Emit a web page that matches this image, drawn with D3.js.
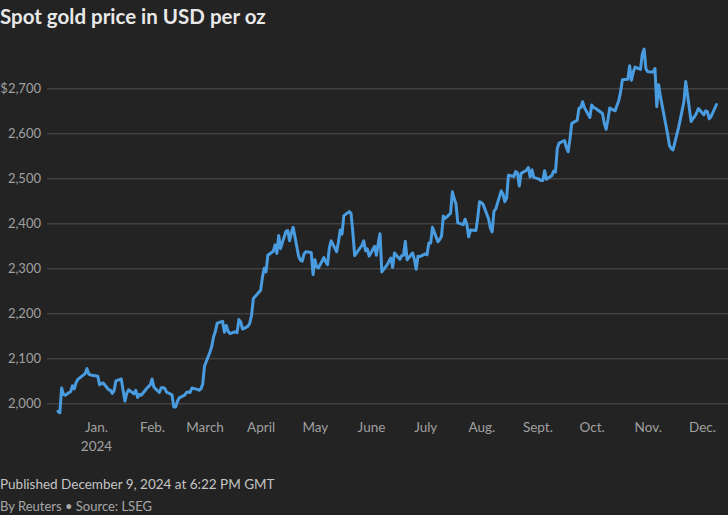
<!DOCTYPE html>
<html>
<head>
<meta charset="utf-8">
<script src="https://cdn.jsdelivr.net/npm/d3@7"></script>
<style>
  html, body { margin: 0; padding: 0; background: #232323; }
  svg { display: block; }
  text { font-family: Lato, "Open Sans", sans-serif; }
</style>
</head>
<body>
<svg id="chart" width="728" height="515"></svg>
<script>
// ---- Data ----
const title = "Spot gold price in USD per oz";
const footerPublished = "Published December 9, 2024 at 6:22 PM GMT";
const footerSource = "By Reuters \u2022 Source: LSEG";

const dates = [
"2023-12-11","2023-12-12","2023-12-13","2023-12-14","2023-12-15","2023-12-18","2023-12-19","2023-12-20","2023-12-21","2023-12-22",
"2023-12-26","2023-12-27","2023-12-28","2023-12-29",
"2024-01-02","2024-01-03","2024-01-04","2024-01-05","2024-01-08","2024-01-09","2024-01-10","2024-01-11","2024-01-12","2024-01-15",
"2024-01-16","2024-01-17","2024-01-18","2024-01-19","2024-01-22","2024-01-23","2024-01-24","2024-01-25","2024-01-26","2024-01-29",
"2024-01-30","2024-01-31",
"2024-02-01","2024-02-02","2024-02-05","2024-02-06","2024-02-07","2024-02-08","2024-02-09","2024-02-12","2024-02-13","2024-02-14",
"2024-02-15","2024-02-16","2024-02-19","2024-02-20","2024-02-21","2024-02-22","2024-02-23","2024-02-26","2024-02-27","2024-02-28","2024-02-29",
"2024-03-01","2024-03-04","2024-03-05","2024-03-06","2024-03-07","2024-03-08","2024-03-11","2024-03-12","2024-03-13","2024-03-14",
"2024-03-15","2024-03-18","2024-03-19","2024-03-20","2024-03-21","2024-03-22","2024-03-25","2024-03-26","2024-03-27","2024-03-28",
"2024-04-01","2024-04-02","2024-04-03","2024-04-04","2024-04-05","2024-04-08","2024-04-09","2024-04-10","2024-04-11","2024-04-12",
"2024-04-15","2024-04-16","2024-04-17","2024-04-18","2024-04-19","2024-04-22","2024-04-23","2024-04-24","2024-04-25","2024-04-26",
"2024-04-29","2024-04-30",
"2024-05-01","2024-05-02","2024-05-03","2024-05-06","2024-05-07","2024-05-08","2024-05-09","2024-05-10","2024-05-13","2024-05-14",
"2024-05-15","2024-05-16","2024-05-17","2024-05-20","2024-05-21","2024-05-22","2024-05-23","2024-05-24","2024-05-27","2024-05-28",
"2024-05-29","2024-05-30","2024-05-31",
"2024-06-03","2024-06-04","2024-06-05","2024-06-06","2024-06-07","2024-06-10","2024-06-11","2024-06-12","2024-06-13","2024-06-14",
"2024-06-17","2024-06-18","2024-06-19","2024-06-20","2024-06-21","2024-06-24","2024-06-25","2024-06-26","2024-06-27","2024-06-28",
"2024-07-01","2024-07-02","2024-07-03","2024-07-04","2024-07-05","2024-07-08","2024-07-09","2024-07-10","2024-07-11","2024-07-12",
"2024-07-15","2024-07-16","2024-07-17","2024-07-18","2024-07-19","2024-07-22","2024-07-23","2024-07-24","2024-07-25","2024-07-26",
"2024-07-29","2024-07-30","2024-07-31",
"2024-08-01","2024-08-02","2024-08-05","2024-08-06","2024-08-07","2024-08-08","2024-08-09","2024-08-12","2024-08-13","2024-08-14",
"2024-08-15","2024-08-16","2024-08-19","2024-08-20","2024-08-21","2024-08-22","2024-08-23","2024-08-26","2024-08-27","2024-08-28",
"2024-08-29","2024-08-30",
"2024-09-02","2024-09-03","2024-09-04","2024-09-05","2024-09-06","2024-09-09","2024-09-10","2024-09-11","2024-09-12","2024-09-13",
"2024-09-16","2024-09-17","2024-09-18","2024-09-19","2024-09-20","2024-09-23","2024-09-24","2024-09-25","2024-09-26","2024-09-27",
"2024-09-30",
"2024-10-01","2024-10-02","2024-10-03","2024-10-04","2024-10-07","2024-10-08","2024-10-09","2024-10-10","2024-10-11","2024-10-14",
"2024-10-15","2024-10-16","2024-10-17","2024-10-18","2024-10-21","2024-10-22","2024-10-23","2024-10-24","2024-10-25","2024-10-28",
"2024-10-29","2024-10-30","2024-10-31",
"2024-11-01","2024-11-04","2024-11-05","2024-11-06","2024-11-07","2024-11-08","2024-11-11","2024-11-12","2024-11-13","2024-11-14",
"2024-11-15","2024-11-18","2024-11-19","2024-11-20","2024-11-21","2024-11-22","2024-11-25","2024-11-26","2024-11-27","2024-11-28",
"2024-11-29",
"2024-12-02","2024-12-03","2024-12-04","2024-12-05","2024-12-06","2024-12-09"
];

const prices = [
1982,1979,2034,2020,2018,2026,2039,2032,2046,2053,
2066,2077,2065,2063,
2060,2041,2044,2045,2030,2029,2022,2028,2050,2054,
2028,2005,2022,2030,2021,2029,2013,2020,2018,2033,
2037,2041,
2054,2036,2024,2034,2035,2033,2025,2019,1992,1992,
2004,2012,2018,2024,2025,2024,2034,2031,2029,2032,2043,
2083,2114,2126,2148,2160,2178,2182,2158,2173,2160,
2155,2159,2157,2186,2181,2165,2171,2178,2196,2233,
2251,2280,2300,2292,2329,2338,2352,2333,2373,2344,
2382,2384,2361,2379,2391,2327,2318,2316,2332,2337,
2335,2286,
2319,2303,2301,2324,2314,2308,2346,2361,2337,2358,
2385,2376,2417,2426,2422,2379,2328,2334,2351,2361,
2339,2343,2327,
2349,2329,2355,2377,2292,2308,2316,2323,2302,2334,
2320,2328,2329,2360,2319,2334,2320,2298,2327,2326,
2332,2330,2356,2356,2391,2359,2364,2371,2416,2411,
2422,2470,2455,2443,2401,2397,2409,2398,2370,2385,
2384,2411,2448,
2446,2442,2410,2390,2381,2427,2432,2472,2465,2448,
2456,2507,2504,2515,2512,2483,2511,2518,2524,2503,
2519,2502,
2498,2495,2495,2517,2498,2506,2516,2514,2566,2578,
2584,2569,2559,2587,2622,2629,2656,2657,2670,2657,
2635,
2663,2657,2656,2653,2644,2622,2609,2630,2656,2650,
2662,2673,2692,2719,2720,2750,2718,2736,2747,2742,
2776,2787,2743,
2737,2736,2744,2659,2708,2682,2619,2598,2573,2566,
2563,2612,2631,2651,2670,2715,2626,2633,2638,2645,
2655,
2641,2650,2648,2632,2637,2664
];

const yTicks = [2000, 2100, 2200, 2300, 2400, 2500, 2600, 2700];
const monthTicks = ["2024-01-01","2024-02-01","2024-03-01","2024-04-01","2024-05-01","2024-06-01",
                    "2024-07-01","2024-08-01","2024-09-01","2024-10-01","2024-11-01","2024-12-01"];
const monthLabels = ["Jan.","Feb.","March","April","May","June","July","Aug.","Sept.","Oct.","Nov.","Dec."];
const yearLabel = "2024";

// ---- Build ----
const parse = d3.utcParse("%Y-%m-%d");
const series = dates.map((d, i) => ({ date: parse(d), value: prices[i] }));
const tickDates = monthTicks.map(parse);

const svg = d3.select("#chart");
const W = 728, H = 515;

svg.append("rect").attr("width", W).attr("height", H).attr("fill", "#232323");

const x = d3.scaleUtc()
  .domain([parse("2024-01-01"), parse("2024-12-01")])
  .range([96, 702]);

const y = d3.scaleLinear()
  .domain([2000, 2700])
  .range([403.3, 88.3]);

// Title
svg.append("text")
  .attr("x", 0).attr("y", 24)
  .attr("fill", "#e8e8e8")
  .attr("font-size", 20.5)
  .attr("font-weight", 700)
  .text(title);

// Y axis with gridlines
const gridLeft = 47;
const yAxis = d3.axisLeft(y)
  .tickValues(yTicks)
  .tickSize(-(W - gridLeft))
  .tickPadding(6)
  .tickFormat((d, i) => (d === 2700 ? "$" : "") + d3.format(",")(d));

const yg = svg.append("g")
  .attr("transform", `translate(${gridLeft},0)`)
  .call(yAxis);
yg.select(".domain").remove();
yg.selectAll(".tick line").attr("stroke", "#505050").attr("stroke-width", 1);
yg.selectAll(".tick text")
  .attr("fill", "#a0a0a0")
  .attr("font-size", 13)
  .attr("font-family", "Lato, sans-serif");

// X axis
const xAxis = d3.axisBottom(x)
  .tickValues(tickDates)
  .tickSize(0)
  .tickPadding(19)
  .tickFormat((d, i) => monthLabels[i]);

const xg = svg.append("g")
  .attr("transform", `translate(0,403.3)`)
  .call(xAxis);
xg.select(".domain").remove();
xg.selectAll(".tick text")
  .attr("fill", "#a0a0a0")
  .attr("font-size", 13.5)
  .attr("font-family", "Lato, sans-serif");
// Year label under first tick
xg.select(".tick").append("text")
  .attr("fill", "#a0a0a0")
  .attr("font-size", 13.5)
  .attr("font-family", "Lato, sans-serif")
  .attr("text-anchor", "middle")
  .attr("y", 38)
  .attr("dy", "0.71em")
  .text(yearLabel);

// Line
const line = d3.line()
  .x(d => x(d.date))
  .y(d => y(d.value));

svg.append("path")
  .datum(series)
  .attr("fill", "none")
  .attr("stroke", "#4a9ce0")
  .attr("stroke-width", 3)
  .attr("stroke-linejoin", "round")
  .attr("stroke-linecap", "round")
  .attr("d", line);

// Footer
svg.append("text")
  .attr("x", 0).attr("y", 489)
  .attr("fill", "#c4c4c4")
  .attr("font-size", 13.5)
  .text(footerPublished);

svg.append("text")
  .attr("x", 0).attr("y", 511)
  .attr("fill", "#a8a8a8")
  .attr("font-size", 13)
  .text(footerSource);
</script>
</body>
</html>
